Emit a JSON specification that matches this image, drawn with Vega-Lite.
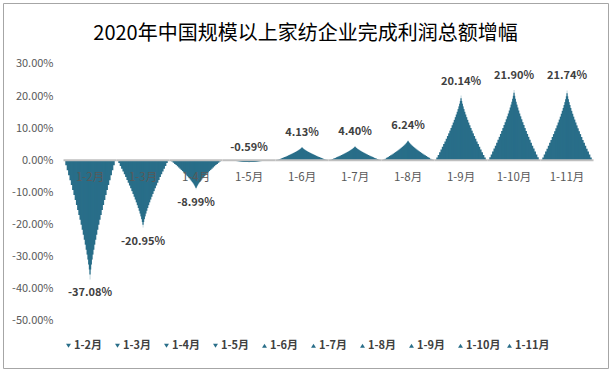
{
  "$schema": "https://vega.github.io/schema/vega-lite/v6.json",
  "width": 605,
  "height": 365,
  "autosize": "none",
  "padding": {"left": 3, "top": 3, "right": 5, "bottom": 5},
  "background": "white",
  "config": {
    "view": {"stroke": "#a6a6a6", "strokeWidth": 1},
    "font": "Noto Sans CJK SC",
    "locale": {"number": {"decimal": ".", "thousands": ",", "grouping": [3], "currency": ["$", ""], "minus": "-"}}
  },
  "title": {"text": "2020年中国规模以上家纺企业完成利润总额增幅", "fontSize": 20, "fontWeight": "normal", "color": "#000000", "font": "Noto Sans CJK SC", "anchor": "middle", "offset": -41},
  "data": {"values": [
    {"month": "1-2月", "value": -0.3708},
    {"month": "1-3月", "value": -0.2095},
    {"month": "1-4月", "value": -0.0899},
    {"month": "1-5月", "value": -0.0059},
    {"month": "1-6月", "value": 0.0413},
    {"month": "1-7月", "value": 0.0440},
    {"month": "1-8月", "value": 0.0624},
    {"month": "1-9月", "value": 0.2014},
    {"month": "1-10月", "value": 0.2190},
    {"month": "1-11月", "value": 0.2174}
  ]},
  "encoding": {
    "x": {"field": "month", "type": "nominal", "sort": ["1-2月","1-3月","1-4月","1-5月","1-6月","1-7月","1-8月","1-9月","1-10月","1-11月"], "scale": {"paddingInner": 0, "paddingOuter": 0.7075, "align": 0.807}, "axis": null}
  },
  "layer": [
    {"mark": {"type": "bar", "width": {"band": 0.9331}, "color": "#296e89"}, "encoding": {"y": {"field": "value", "type": "quantitative", "scale": {"domain": [-15.517, 11.7516], "nice": false}, "axis": null}}},
    {"mark": {"type": "bar", "width": {"band": 0.8799}, "color": "#296e89"}, "encoding": {"y": {"field": "value", "type": "quantitative", "scale": {"domain": [-7.7585, 5.8758], "nice": false}, "axis": null}}},
    {"mark": {"type": "bar", "width": {"band": 0.8275}, "color": "#296e89"}, "encoding": {"y": {"field": "value", "type": "quantitative", "scale": {"domain": [-5.1723, 3.9172], "nice": false}, "axis": null}}},
    {"mark": {"type": "bar", "width": {"band": 0.7760}, "color": "#296e89"}, "encoding": {"y": {"field": "value", "type": "quantitative", "scale": {"domain": [-3.8793, 2.9379], "nice": false}, "axis": null}}},
    {"mark": {"type": "bar", "width": {"band": 0.7253}, "color": "#296e89"}, "encoding": {"y": {"field": "value", "type": "quantitative", "scale": {"domain": [-3.1034, 2.3503], "nice": false}, "axis": null}}},
    {"mark": {"type": "bar", "width": {"band": 0.6756}, "color": "#296e89"}, "encoding": {"y": {"field": "value", "type": "quantitative", "scale": {"domain": [-2.5862, 1.9586], "nice": false}, "axis": null}}},
    {"mark": {"type": "bar", "width": {"band": 0.6267}, "color": "#296e89"}, "encoding": {"y": {"field": "value", "type": "quantitative", "scale": {"domain": [-2.2167, 1.6788], "nice": false}, "axis": null}}},
    {"mark": {"type": "bar", "width": {"band": 0.5789}, "color": "#296e89"}, "encoding": {"y": {"field": "value", "type": "quantitative", "scale": {"domain": [-1.9396, 1.4690], "nice": false}, "axis": null}}},
    {"mark": {"type": "bar", "width": {"band": 0.5320}, "color": "#296e89"}, "encoding": {"y": {"field": "value", "type": "quantitative", "scale": {"domain": [-1.7241, 1.3057], "nice": false}, "axis": null}}},
    {"mark": {"type": "bar", "width": {"band": 0.4862}, "color": "#296e89"}, "encoding": {"y": {"field": "value", "type": "quantitative", "scale": {"domain": [-1.5517, 1.1752], "nice": false}, "axis": null}}},
    {"mark": {"type": "bar", "width": {"band": 0.4415}, "color": "#296e89"}, "encoding": {"y": {"field": "value", "type": "quantitative", "scale": {"domain": [-1.4106, 1.0683], "nice": false}, "axis": null}}},
    {"mark": {"type": "bar", "width": {"band": 0.3979}, "color": "#296e89"}, "encoding": {"y": {"field": "value", "type": "quantitative", "scale": {"domain": [-1.2931, 0.9793], "nice": false}, "axis": null}}},
    {"mark": {"type": "bar", "width": {"band": 0.3556}, "color": "#296e89"}, "encoding": {"y": {"field": "value", "type": "quantitative", "scale": {"domain": [-1.1936, 0.9040], "nice": false}, "axis": null}}},
    {"mark": {"type": "bar", "width": {"band": 0.3145}, "color": "#296e89"}, "encoding": {"y": {"field": "value", "type": "quantitative", "scale": {"domain": [-1.1084, 0.8394], "nice": false}, "axis": null}}},
    {"mark": {"type": "bar", "width": {"band": 0.2747}, "color": "#296e89"}, "encoding": {"y": {"field": "value", "type": "quantitative", "scale": {"domain": [-1.0345, 0.7834], "nice": false}, "axis": null}}},
    {"mark": {"type": "bar", "width": {"band": 0.2364}, "color": "#296e89"}, "encoding": {"y": {"field": "value", "type": "quantitative", "scale": {"domain": [-0.9698, 0.7345], "nice": false}, "axis": null}}},
    {"mark": {"type": "bar", "width": {"band": 0.1997}, "color": "#296e89"}, "encoding": {"y": {"field": "value", "type": "quantitative", "scale": {"domain": [-0.9128, 0.6913], "nice": false}, "axis": null}}},
    {"mark": {"type": "bar", "width": {"band": 0.1646}, "color": "#296e89"}, "encoding": {"y": {"field": "value", "type": "quantitative", "scale": {"domain": [-0.8621, 0.6529], "nice": false}, "axis": null}}},
    {"mark": {"type": "bar", "width": {"band": 0.1314}, "color": "#296e89"}, "encoding": {"y": {"field": "value", "type": "quantitative", "scale": {"domain": [-0.8167, 0.6185], "nice": false}, "axis": null}}},
    {"mark": {"type": "bar", "width": {"band": 0.1002}, "color": "#296e89"}, "encoding": {"y": {"field": "value", "type": "quantitative", "scale": {"domain": [-0.7759, 0.5876], "nice": false}, "axis": null}}},
    {"mark": {"type": "bar", "width": {"band": 0.0714}, "color": "#296e89"}, "encoding": {"y": {"field": "value", "type": "quantitative", "scale": {"domain": [-0.7389, 0.5596], "nice": false}, "axis": null}}},
    {"mark": {"type": "bar", "width": {"band": 0.0453}, "color": "#296e89"}, "encoding": {"y": {"field": "value", "type": "quantitative", "scale": {"domain": [-0.7053, 0.5342], "nice": false}, "axis": null}}},
    {"mark": {"type": "bar", "width": {"band": 0.0227}, "color": "#296e89"}, "encoding": {"y": {"field": "value", "type": "quantitative", "scale": {"domain": [-0.6747, 0.5109], "nice": false}, "axis": null}}},
    {"mark": {"type": "bar", "width": {"band": 0.0052}, "color": "#296e89"}, "encoding": {"y": {"field": "value", "type": "quantitative", "scale": {"domain": [-0.64654, 0.48965], "nice": false}, "axis": null}}},
    {
      "mark": {"type": "rect", "color": "#bfbfbf"},
      "encoding": {
        "y": {"datum": 0.003, "type": "quantitative", "scale": {"domain": [-0.64654, 0.48965], "nice": false},
          "axis": {"values": [-0.5, -0.4, -0.3, -0.2, -0.1, 0, 0.1, 0.2, 0.3], "format": ".2%", "grid": false, "domain": false, "ticks": false, "tickSize": 0, "labelPadding": 0, "offset": -50, "title": null, "labelColor": "#595959", "labelFontSize": 11, "labelFont": "Noto Sans CJK SC"}},
        "y2": {"datum": -0.003}
      }
    },
    {
      "mark": {"type": "text", "dy": 18, "fontSize": 11.5, "color": "#595959", "font": "Noto Sans CJK SC"},
      "encoding": {
        "y": {"datum": 0, "type": "quantitative", "scale": {"domain": [-0.64654, 0.48965], "nice": false}, "axis": null},
        "text": {"field": "month", "type": "nominal"}
      }
    },
    {
      "transform": [{"filter": "datum.value >= -0.01"}],
      "mark": {"type": "text", "dy": -14, "fontSize": 11, "fontWeight": "bold", "color": "#404040", "font": "Noto Sans CJK SC"},
      "encoding": {
        "y": {"field": "value", "type": "quantitative", "scale": {"domain": [-0.64654, 0.48965], "nice": false}, "axis": null},
        "text": {"field": "value", "type": "quantitative", "format": ".2%"}
      }
    },
    {
      "transform": [{"filter": "datum.value < -0.01"}],
      "mark": {"type": "text", "dy": 14, "fontSize": 11, "fontWeight": "bold", "color": "#404040", "font": "Noto Sans CJK SC"},
      "encoding": {
        "y": {"field": "value", "type": "quantitative", "scale": {"domain": [-0.64654, 0.48965], "nice": false}, "axis": null},
        "text": {"field": "value", "type": "quantitative", "format": ".2%"}
      }
    },
    {
      "mark": {"type": "point", "filled": true, "opacity": 0},
      "encoding": {
        "y": {"datum": 0, "type": "quantitative", "scale": {"domain": [-1, 1]}, "axis": null},
        "color": {"field": "month", "type": "nominal",
          "scale": {"domain": ["1-2月","1-3月","1-4月","1-5月","1-6月","1-7月","1-8月","1-9月","1-10月","1-11月"], "range": ["#296e89","#296e89","#296e89","#296e89","#296e89","#296e89","#296e89","#296e89","#296e89","#296e89"]},
          "legend": {"orient": "none", "legendX": 60, "legendY": 337, "direction": "horizontal", "columns": 10, "title": null, "symbolSize": 24, "symbolOpacity": 1, "symbolStrokeWidth": 0, "labelFont": "Noto Sans CJK SC", "labelFontSize": 11, "labelFontWeight": "bold", "labelColor": "#404040", "labelOffset": 0, "columnPadding": 3, "gridAlign": "all"}},
        "shape": {"field": "month", "type": "nominal",
          "scale": {"domain": ["1-2月","1-3月","1-4月","1-5月","1-6月","1-7月","1-8月","1-9月","1-10月","1-11月"], "range": ["triangle-down","triangle-down","triangle-down","triangle-down","triangle-up","triangle-up","triangle-up","triangle-up","triangle-up","triangle-up"]},
          "legend": {"orient": "none", "legendX": 60, "legendY": 337, "direction": "horizontal", "columns": 10, "title": null, "symbolSize": 24, "symbolOpacity": 1, "symbolStrokeWidth": 0, "labelFont": "Noto Sans CJK SC", "labelFontSize": 11, "labelFontWeight": "bold", "labelColor": "#404040", "labelOffset": 0, "columnPadding": 3, "gridAlign": "all"}}
      }
    }
  ],
  "resolve": {"scale": {"y": "independent"}}
}
